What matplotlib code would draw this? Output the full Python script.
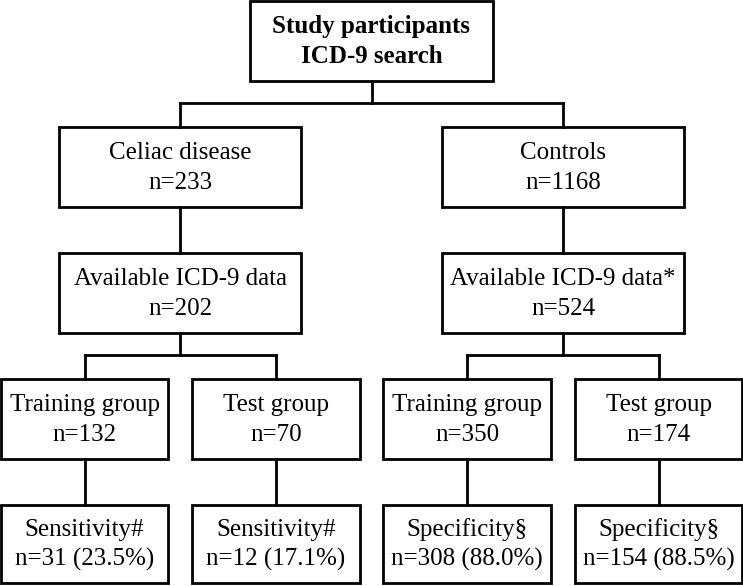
import matplotlib
matplotlib.use("Agg")
import matplotlib.pyplot as plt
from matplotlib.patches import Rectangle

# ---- data ----
top_title = ["Study participants", "ICD-9 search"]
group_names = ["Celiac disease", "Controls"]
group_n = [233, 1168]
available_labels = ["Available ICD-9 data", "Available ICD-9 data*"]
available_n = [202, 524]
split_labels = ["Training group", "Test group", "Training group", "Test group"]
split_n = [132, 70, 350, 174]
result_labels = ["Sensitivity#", "Sensitivity#", "Specificity\u00a7", "Specificity\u00a7"]
result_n = [31, 12, 308, 154]
result_pct = [23.5, 17.1, 88.0, 88.5]

# ---- layout (pixels) ----
W, H = 743, 586
fig = plt.figure(figsize=(W / 100, H / 100), dpi=100)
ax = fig.add_axes([0, 0, 1, 1])
ax.set_xlim(0, W)
ax.set_ylim(H, 0)
ax.axis("off")

LW = 2.0
FS = 18.0
FONT = "Liberation Serif"

def box(x0, x1, y0, y1, l1, l2, bold=False):
    ax.add_patch(Rectangle((x0, y0), x1 - x0, y1 - y0, fill=False,
                           edgecolor="black", lw=LW))
    cx = (x0 + x1) / 2
    cy = (y0 + y1) / 2
    kw = dict(ha="center", va="baseline", fontsize=FS, family=FONT,
              fontweight="bold" if bold else "normal", color="black")
    ax.text(cx, cy - 8, l1, **kw)
    ax.text(cx, cy + 22, l2, **kw)

def line(xs, ys):
    ax.plot(xs, ys, color="black", lw=LW, solid_capstyle="projecting")

# top box
box(250, 493, 1, 81, top_title[0], top_title[1], bold=True)

lvl2_x = [(59, 301), (442, 684)]
lvl2_c = [180, 563]
line([372, 372], [81, 103])
line([lvl2_c[0], lvl2_c[1]], [103, 103])
for c in lvl2_c:
    line([c, c], [103, 127])

for i, (x0, x1) in enumerate(lvl2_x):
    box(x0, x1, 127, 207, group_names[i], f"n={group_n[i]}")
    line([lvl2_c[i], lvl2_c[i]], [207, 253])
    box(x0, x1, 253, 333, available_labels[i], f"n={available_n[i]}")

lvl4_x = [(1, 168), (192, 360), (383, 551), (575, 742)]
lvl4_c = [(a + b) / 2 for a, b in lvl4_x]
for i in range(2):
    c = lvl2_c[i]
    line([c, c], [333, 355])
    line([lvl4_c[2 * i], lvl4_c[2 * i + 1]], [355, 355])
    for j in (2 * i, 2 * i + 1):
        line([lvl4_c[j], lvl4_c[j]], [355, 379])

for j, (x0, x1) in enumerate(lvl4_x):
    box(x0, x1, 379, 459, split_labels[j], f"n={split_n[j]}")
    line([lvl4_c[j], lvl4_c[j]], [459, 505])
    box(x0, x1, 505, 583, result_labels[j],
        f"n={result_n[j]} ({result_pct[j]:.1f}%)")

fig.savefig("out.png", dpi=100, facecolor="white")
